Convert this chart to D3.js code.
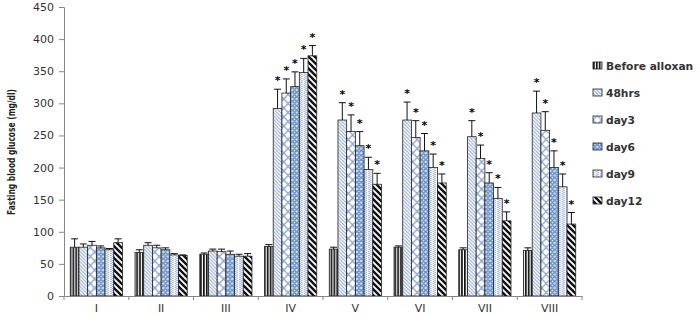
<!DOCTYPE html>
<html>
<head>
<meta charset="utf-8">
<script src="https://cdn.jsdelivr.net/npm/d3@7"></script>
<style>
  body { margin: 0; background: #fff; }
  text { font-family: "DejaVu Sans", Verdana, sans-serif; }
</style>
</head>
<body>
<div id="chart"></div>
<script>
(function() {
  var groups = ["I", "II", "III", "IV", "V", "VI", "VII", "VIII"];
  var seriesNames = ["Before alloxan", "48hrs", "day3", "day6", "day9", "day12"];
  var yTicks = [0, 50, 100, 150, 200, 250, 300, 350, 400, 450];

  // mean fasting glucose per group, one array per time point
  var beforeAlloxan = [76, 68, 65, 77, 73, 76, 72, 71];
  var hrs48 = [76, 79, 70, 292, 274, 274, 248, 285];
  var day3 = [79, 75, 69, 316, 256, 247, 214, 258];
  var day6 = [75, 72, 65, 326, 234, 226, 176, 200];
  var day9 = [72, 64, 62, 348, 197, 200, 152, 170];
  var day12 = [83, 63, 62, 374, 174, 176, 117, 112];

  // error bar (upper) sizes
  var errBefore = [13, 4, 2, 3, 3, 2, 3, 4];
  var err48 = [5, 4, 3, 30, 27, 28, 25, 34];
  var errDay3 = [6, 4, 4, 22, 26, 26, 21, 29];
  var errDay6 = [3, 3, 5, 23, 22, 27, 16, 26];
  var errDay9 = [2, 2, 3, 22, 19, 21, 17, 20];
  var errDay12 = [6, 1, 4, 16, 17, 14, 14, 18];

  // which bars carry a significance star
  var starGroups = ["IV", "V", "VI", "VII", "VIII"];
  var starSeries = ["48hrs", "day3", "day6", "day9", "day12"];

  var values = [beforeAlloxan, hrs48, day3, day6, day9, day12];
  var errors = [errBefore, err48, errDay3, errDay6, errDay9, errDay12];

  var W = 700, H = 315;
  var svg = d3.select("#chart").append("svg").attr("width", W).attr("height", H);

  var x0 = d3.scaleBand().domain(groups).range([64, 582]);
  var x1 = d3.scaleBand().domain(seriesNames).range([0, x0.bandwidth()]).paddingOuter(0.72);
  var y = d3.scaleLinear().domain([0, 450]).range([296, 7]);

  // fill patterns
  var defs = svg.append("defs");
  var pat;

  pat = defs.append("pattern").attr("id", "p0").attr("patternUnits", "userSpaceOnUse").attr("width", 2.9).attr("height", 4);
  pat.append("rect").attr("width", 2.9).attr("height", 4).attr("fill", "#fff");
  pat.append("rect").attr("width", 1.7).attr("height", 4).attr("fill", "#111");

  pat = defs.append("pattern").attr("id", "p1").attr("patternUnits", "userSpaceOnUse").attr("width", 3.5).attr("height", 3.5);
  pat.append("rect").attr("width", 3.5).attr("height", 3.5).attr("fill", "#fff");
  pat.append("path").attr("d", "M-1,-1L4.5,4.5M-1,2.5L1,4.5M2.5,-1L4.5,1").attr("stroke", "#8aa4cf").attr("stroke-width", 1);

  pat = defs.append("pattern").attr("id", "p2").attr("patternUnits", "userSpaceOnUse").attr("width", 8.6).attr("height", 9);
  pat.append("rect").attr("width", 8.6).attr("height", 9).attr("fill", "#fff");
  pat.append("path").attr("d", "M0,0L8.6,9M8.6,0L0,9").attr("stroke", "#8aa4cf").attr("stroke-width", 1.3);

  pat = defs.append("pattern").attr("id", "p3").attr("patternUnits", "userSpaceOnUse").attr("width", 4.3).attr("height", 4.5);
  pat.append("rect").attr("width", 4.3).attr("height", 4.5).attr("fill", "#dbe5f3");
  pat.append("circle").attr("cx", 2.15).attr("cy", 2.25).attr("r", 1.5).attr("fill", "#fff").attr("stroke", "#3d72b8").attr("stroke-width", 1.1);

  pat = defs.append("pattern").attr("id", "p4").attr("patternUnits", "userSpaceOnUse").attr("width", 4.3).attr("height", 2);
  pat.append("rect").attr("width", 4.3).attr("height", 2).attr("fill", "#eef2f9");
  pat.append("rect").attr("x", 0.4).attr("width", 0.9).attr("height", 1).attr("fill", "#6f8fc7");
  pat.append("rect").attr("x", 3).attr("y", 1).attr("width", 0.9).attr("height", 1).attr("fill", "#6f8fc7");
  pat.append("rect").attr("x", 1.7).attr("width", 0.9).attr("height", 2).attr("fill", "#fff");

  pat = defs.append("pattern").attr("id", "p5").attr("patternUnits", "userSpaceOnUse").attr("width", 6).attr("height", 6);
  pat.append("rect").attr("width", 6).attr("height", 6).attr("fill", "#fff");
  pat.append("path").attr("d", "M-1,-1L7,7M-1,5L1,7M5,-1L7,1").attr("stroke", "#111").attr("stroke-width", 2.4);

  var bars = [];
  seriesNames.forEach(function(s, si) {
    groups.forEach(function(g, gi) {
      bars.push({ group: g, series: s, si: si, value: values[si][gi], err: errors[si][gi] });
    });
  });

  var gBars = svg.append("g");
  gBars.selectAll("rect").data(bars).enter().append("rect")
    .attr("x", function(d) { return x0(d.group) + x1(d.series); })
    .attr("y", function(d) { return y(d.value); })
    .attr("width", x1.bandwidth())
    .attr("height", function(d) { return y(0) - y(d.value); })
    .attr("fill", function(d) { return "url(#p" + d.si + ")"; })
    .attr("stroke", "#222").attr("stroke-width", 0.8);

  // error bars, upper half only
  var gErr = svg.append("g").attr("stroke", "#111").attr("stroke-width", 1);
  bars.forEach(function(d) {
    var cx = x0(d.group) + x1(d.series) + x1.bandwidth() / 2;
    gErr.append("line").attr("x1", cx).attr("x2", cx).attr("y1", y(d.value)).attr("y2", y(d.value + d.err));
    gErr.append("line").attr("x1", cx - 3.5).attr("x2", cx + 3.5).attr("y1", y(d.value + d.err)).attr("y2", y(d.value + d.err));
  });

  svg.append("g").selectAll("text")
    .data(bars.filter(function(d) { return starGroups.indexOf(d.group) >= 0 && starSeries.indexOf(d.series) >= 0; }))
    .enter().append("text")
    .attr("x", function(d) { return x0(d.group) + x1(d.series) + x1.bandwidth() / 2; })
    .attr("y", function(d) { return y(d.value + d.err) - 5; })
    .attr("text-anchor", "middle").attr("font-size", 11).attr("font-weight", "bold").attr("fill", "#000")
    .style("-webkit-font-smoothing", "antialiased")
    .text("*");

  // axes
  var yAxis = svg.append("g").attr("transform", "translate(64,0)")
    .call(d3.axisLeft(y).tickValues(yTicks).tickSize(5).tickPadding(5));
  yAxis.selectAll("path, line").attr("stroke", "#868686");
  yAxis.selectAll("text").attr("font-size", 11).attr("fill", "#333").attr("font-family", "DejaVu Sans");

  var xAxis = svg.append("g").attr("transform", "translate(0,296)")
    .call(d3.axisBottom(x0).tickSize(0).tickPadding(8));
  xAxis.select("path").attr("stroke", "#868686");
  xAxis.selectAll("text").attr("font-size", 11).attr("fill", "#333").attr("font-family", "DejaVu Sans");
  xAxis.selectAll(".sep").data(d3.range(groups.length + 1)).enter().append("line")
    .attr("x1", function(i) { return x0.range()[0] + i * x0.step(); })
    .attr("x2", function(i) { return x0.range()[0] + i * x0.step(); })
    .attr("y1", 0).attr("y2", 4).attr("stroke", "#868686");

  svg.append("text")
    .attr("transform", "translate(15,152) rotate(-90)")
    .attr("text-anchor", "middle")
    .attr("font-family", "'Liberation Sans Narrow', 'Liberation Sans', sans-serif")
    .attr("font-weight", "bold").attr("font-size", 10.5).attr("fill", "#222")
    .attr("textLength", 126).attr("lengthAdjust", "spacingAndGlyphs")
    .text("Fasting blood glucose (mg/dl)");

  // legend
  var legend = svg.append("g").selectAll("g").data(seriesNames).enter().append("g")
    .attr("transform", function(d, i) { return "translate(593," + (66 + i * 27) + ")"; });
  legend.append("rect").attr("x", 0).attr("y", -4).attr("width", 9).attr("height", 7)
    .attr("fill", function(d, i) { return "url(#p" + i + ")"; })
    .attr("stroke", "#222").attr("stroke-width", 0.8);
  legend.append("text").attr("x", 13).attr("y", 4)
    .attr("font-size", 10.7).attr("font-weight", "bold").attr("fill", "#333")
    .text(function(d) { return d; });
})();
</script>
</body>
</html>
